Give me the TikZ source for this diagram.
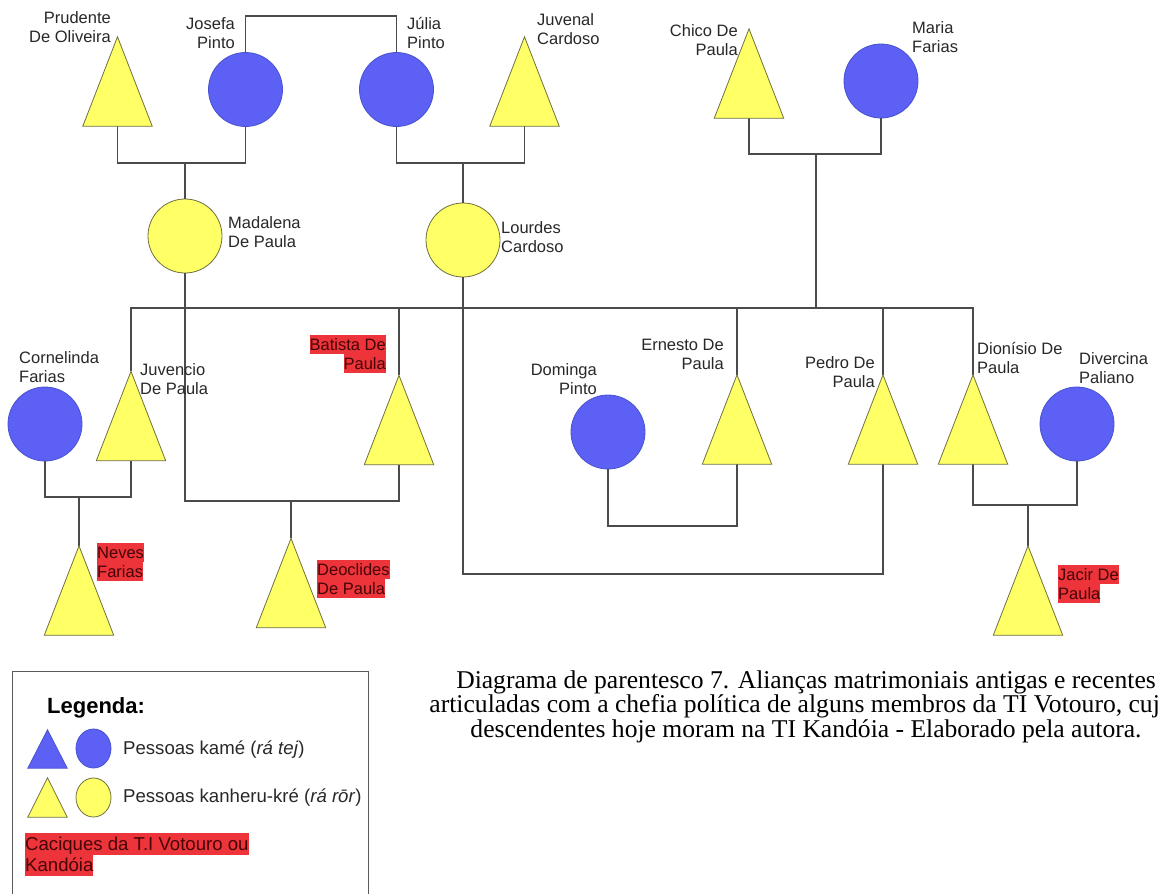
\documentclass[tikz,border=0pt]{standalone}
\usepackage{fontspec}
\setmainfont{Liberation Sans}
\newfontfamily\capfont{Liberation Serif}
\usetikzlibrary{shapes.geometric}

\definecolor{kblue}{RGB}{92,96,244}
\definecolor{kblueline}{RGB}{72,82,205}
\definecolor{kyellow}{RGB}{255,255,102}
\definecolor{kyellowline}{RGB}{112,112,64}
\definecolor{linegray}{RGB}{75,75,75}
\definecolor{labelgray}{RGB}{40,40,40}
\definecolor{hlred}{RGB}{236,52,58}
\definecolor{hltext}{RGB}{70,4,6}
\definecolor{boxgray}{RGB}{90,90,90}

% two-line label, first baseline is the node baseline
\newcommand\twoline[3]{\begin{tabular}[t]{@{}#1@{}}#2\\#3\end{tabular}}
% highlighted names (caciques)
\newcommand\hlstrut{\rule[-4pt]{0pt}{19pt}}
\newcommand\hlmark[1]{{\setlength\fboxsep{0pt}\colorbox{hlred}{\hlstrut\textcolor{hltext}{#1}}}}
\newcommand\hlpair[3]{{\def\arraystretch{0}\begin{tabular}[t]{@{}#1@{}}\hlmark{#2}\\\hlmark{#3}\end{tabular}}}

\tikzset{
  link/.style={draw=linegray, line width=1.3pt},
  female/.style={circle, minimum size=74pt, inner sep=0pt, line width=0.8pt},
  malebox/.style={rectangle, minimum width=69pt, minimum height=89pt, inner sep=0pt},
  kame/.style={fill=kblue, draw=kblueline, line width=0.8pt},
  kanheru/.style={fill=kyellow, draw=kyellowline, line width=0.8pt},
  lbl/.style={inner sep=0pt, text=labelgray, font=\fontsize{16.5}{19}\selectfont},
  leglbl/.style={inner sep=0pt, text=labelgray, font=\fontsize{18.6}{21.5}\selectfont},
}

\begin{document}
\begin{tikzpicture}[x=1pt, y=-1pt]
\useasboundingbox (0,0) rectangle (1159,894);
\fill[white] (0,0) rectangle (1159,894);

% ---- women (circles)
\node[female, kame]    (jos) at (245.5,89.5) {};
\node[female, kame]    (jul) at (396.5,89.5) {};
\node[female, kame]    (mar) at (881,81) {};
\node[female, kanheru] (mad) at (185,236) {};
\node[female, kanheru] (lou) at (463,240) {};
\node[female, kame]    (cor) at (45,424) {};
\node[female, kame]    (dom) at (608,432) {};
\node[female, kame]    (div) at (1077,424) {};

% ---- men (triangles, drawn from their boxes below)
\node[malebox] (pru) at (117.5,81.5) {};
\node[malebox] (juv) at (524.5,81.5) {};
\node[malebox] (chi) at (749,73.5) {};
\node[malebox] (jvc) at (131,416) {};
\node[malebox] (bat) at (399,420) {};
\node[malebox] (nev) at (79,590.5) {};
\node[malebox] (deo) at (291,583) {};
\node[malebox] (ern) at (737,419.5) {};
\node[malebox] (ped) at (883,419.5) {};
\node[malebox] (dio) at (973,419.5) {};
\node[malebox] (jac) at (1028,590.5) {};

% ---- junction points of the kinship lines
\coordinate (sis) at (322,16);
\coordinate (m1) at (185,163);
\coordinate (m2) at (463,163);
\coordinate (m3) at (816,154);
\coordinate (sib) at (816,308);
\coordinate (m4) at (291,501);
\coordinate (m5) at (673,574);
\coordinate (m6) at (79,497);
\coordinate (m7) at (672,526);
\coordinate (m8) at (1028,505);

% ---- kinship lines
\draw[link] (jos.north) |- (sis) -| (jul.north);
\draw[link] (pru.south) |- (m1) -| (jos.south);
\draw[link] (m1) -- (mad.north);
\draw[link] (jul.south) |- (m2) -| (juv.south);
\draw[link] (m2) -- (lou.north);
\draw[link] (chi.south) |- (m3) -| (mar.south);
\draw[link] (m3) -- (sib);
\draw[link] (jvc.north) |- (sib) -| (dio.north);
\draw[link] (bat.north) -- (bat.north |- sib);
\draw[link] (ern.north) -- (ern.north |- sib);
\draw[link] (ped.north) -- (ped.north |- sib);
\draw[link] (mad.south) |- (m4) -| (bat.south);
\draw[link] (m4) -- (deo.north);
\draw[link] (lou.south) |- (m5) -| (ped.south);
\draw[link] (cor.south) |- (m6) -| (jvc.south);
\draw[link] (m6) -- (nev.north);
\draw[link] (dom.south) |- (m7) -| (ern.south);
\draw[link] (dio.south) |- (m8) -| (div.south);
\draw[link] (m8) -- (jac.north);

\foreach \t in {pru,juv,chi,jvc,bat,nev,deo,ern,ped,dio,jac}
  \filldraw[kanheru] (\t.north) -- (\t.south east) -- (\t.south west) -- cycle;

% ---- names
\node[lbl, anchor=base east] (tpru) at (111,23.3) {\twoline{r}{Prudente}{De Oliveira}};
\node[lbl, anchor=base east] (tjos) at (235,29) {\twoline{r}{Josefa}{Pinto}};
\node[lbl, anchor=base west] (tjul) at (407,29) {\twoline{l}{Júlia}{Pinto}};
\node[lbl, anchor=base west] (tjuv) at (537,25) {\twoline{l}{Juvenal}{Cardoso}};
\node[lbl, anchor=base east] (tchi) at (738,36) {\twoline{r}{Chico De}{Paula}};
\node[lbl, anchor=base west] (tmar) at (912,33) {\twoline{l}{Maria}{Farias}};
\node[lbl, anchor=base west] (tmad) at (228,228) {\twoline{l}{Madalena}{De Paula}};
\node[lbl, anchor=base west] (tlou) at (501,233) {\twoline{l}{Lourdes}{Cardoso}};
\node[lbl, anchor=base west] (tcor) at (19,363) {\twoline{l}{Cornelinda}{Farias}};
\node[lbl, anchor=base west] (tjvc) at (140,375) {\twoline{l}{Juvencio}{De Paula}};
\node[lbl, anchor=base east] (tbat) at (386,350) {\hlpair{r}{Batista De}{Paula}};
\node[lbl, anchor=base west] (tnev) at (97,558) {\hlpair{l}{Neves}{Farias}};
\node[lbl, anchor=base west] (tdeo) at (317,575) {\hlpair{l}{Deoclides}{De Paula}};
\node[lbl, anchor=base east] (tdom) at (597,375) {\twoline{r}{Dominga}{Pinto}};
\node[lbl, anchor=base east] (tern) at (724,350) {\twoline{r}{Ernesto De}{Paula}};
\node[lbl, anchor=base east] (tped) at (875,368) {\twoline{r}{Pedro De}{Paula}};
\node[lbl, anchor=base west] (tdio) at (977,354) {\twoline{l}{Dionísio De}{Paula}};
\node[lbl, anchor=base west] (tdiv) at (1079,364) {\twoline{l}{Divercina}{Paliano}};
\node[lbl, anchor=base west] (tjac) at (1058,580) {\hlpair{l}{Jacir De}{Paula}};

% ---- legend and caption
\begin{scope}
\clip (0,0) rectangle (1159,894);
\draw[draw=boxgray, line width=1pt] (12,671) rectangle (368,920);
\node[inner sep=0pt, anchor=base west, text=black, font=\fontsize{22}{25}\selectfont\bfseries] (leg) at (47,713) {Legenda:};
\node[malebox, minimum width=39pt, minimum height=38pt] (lkt) at (47.5,749) {};
\node[ellipse, minimum width=35pt, minimum height=39pt, inner sep=0pt, kame] (lkc) at (93.5,748.5) {};
\node[malebox, minimum width=39pt, minimum height=39pt] (lyt) at (47.5,797.5) {};
\node[ellipse, minimum width=35pt, minimum height=39pt, inner sep=0pt, kanheru] (lyc) at (93.5,797.5) {};
\filldraw[kame] (lkt.north) -- (lkt.south east) -- (lkt.south west) -- cycle;
\filldraw[kanheru] (lyt.north) -- (lyt.south east) -- (lyt.south west) -- cycle;
\node[leglbl, anchor=base west] (lk) at (123,754) {Pessoas kamé (\textit{rá tej})};
\node[leglbl, anchor=base west] (ly) at (123,802) {Pessoas kanheru-kré (\textit{rá rōr})};
\renewcommand\hlstrut{\rule[-4.5pt]{0pt}{21.5pt}}
\node[leglbl, anchor=base west] (lc) at (25,850) {\hlpair{l}{Caciques da T.I Votouro ou}{Kandóia}};

\node[inner sep=0pt, anchor=base, text=black, font=\capfont\fontsize{25.6}{22.5}\selectfont] (cap) at (806,688)
  {\begin{tabular}[t]{@{}c@{}}Diagrama de parentesco 7. Alianças matrimoniais antigas e recentes\\
   articuladas com a chefia política de alguns membros da TI Votouro, cujos\\
   descendentes hoje moram na TI Kandóia - Elaborado pela autora.\end{tabular}};
\end{scope}
\end{tikzpicture}
\end{document}
